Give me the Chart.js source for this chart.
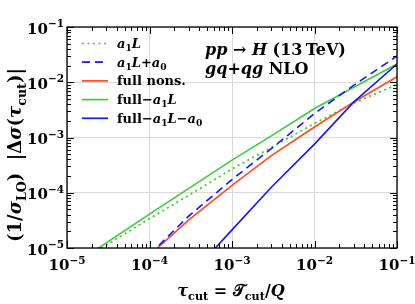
<!DOCTYPE html>
<html>
<head>
<meta charset="utf-8">
<script src="https://cdn.jsdelivr.net/npm/chart.js@4.4.1/dist/chart.umd.min.js"></script>
<style>
  html, body { margin: 0; padding: 0; background: #fff; }
</style>
</head>
<body>
<canvas id="chart" width="415" height="304"></canvas>
<script>
// values (log-log)
const tau = [2e-5, 1e-4, 3e-4, 1e-3, 3e-3, 1e-2, 3e-2, 1e-1];
const a1L = [7.8e-6, 3.4e-5, 9.0e-5, 2.7e-4, 6.6e-4, 1.8e-3, 4.2e-3, 9.1e-3];
const a1La0 = [null, 7.6e-6, 3.8e-5, 1.73e-4, 6.3e-4, 2.72e-3, 8.85e-3, 2.99e-2];
const fullNons = [null, 7.4e-6, 3.24e-5, 1.36e-4, 4.7e-4, 1.55e-3, 4.4e-3, 1.26e-2];
const fullMinusA1L = [8.3e-6, 4.1e-5, 1.2e-4, 3.9e-4, 1.07e-3, 3.35e-3, 8.1e-3, 2.14e-2];
const fullMinusA1LA0 = [null, null, 3.0e-6, 2.13e-5, 1.26e-4, 7.6e-4, 4.4e-3, 2.14e-2];

const decades = [1e-5, 1e-4, 1e-3, 1e-2, 1e-1];
const tickExponents = ['\u22125', '\u22124', '\u22123', '\u22122', '\u22121'];

const GREEN = '#3ccc3c';
const RED = '#ff4a1c';
const BLUE = '#1414ff';

const FAMILY = '"DejaVu Serif", serif';

function points(values) {
    return tau.map((t, i) => ({ x: t, y: values[i] })).filter(p => p.y !== null);
}

// text with bold / italic / sub / sup pieces
function drawRich(ctx, segs, x, y, size, align) {
    const font = k => {
        const small = k === 's' || k === 'p';
        const it = (k === 'i' || k === 'si') ? 'italic ' : '';
        const sz = (small || k === 'si') ? size * 0.7 : size;
        return `${it}bold ${sz}px ${FAMILY}`;
    };
    let w = 0;
    for (const [t, k] of segs) {
        ctx.font = font(k);
        w += ctx.measureText(t).width;
    }
    let cx = align === 'center' ? x - w / 2 : align === 'right' ? x - w : x;
    ctx.textAlign = 'left';
    ctx.textBaseline = 'alphabetic';
    for (const [t, k] of segs) {
        ctx.font = font(k);
        let dy = 0;
        if (k === 's' || k === 'si') dy = size * 0.25;
        if (k === 'p') dy = -size * 0.42;
        ctx.fillText(t, cx, y + dy);
        cx += ctx.measureText(t).width;
    }
    return w;
}

const legendItems = [
    { segs: [['a', 'i'], ['1', 's'], ['L', 'i']], color: GREEN, dash: [2, 3.5] },
    { segs: [['a', 'i'], ['1', 's'], ['L', 'i'], ['+', 'b'], ['a', 'i'], ['0', 's']], color: BLUE, dash: [8, 5] },
    { segs: [['full nons.', 'b']], color: RED, dash: [] },
    { segs: [['full\u2212', 'b'], ['a', 'i'], ['1', 's'], ['L', 'i']], color: GREEN, dash: [] },
    { segs: [['full\u2212', 'b'], ['a', 'i'], ['1', 's'], ['L', 'i'], ['\u2212', 'b'], ['a', 'i'], ['0', 's']], color: BLUE, dash: [] }
];

const decorations = {
    id: 'decorations',
    afterDraw(chart) {
        const { ctx, chartArea: a, scales: { x, y } } = chart;
        ctx.save();

        // minor and major tick marks on all four sides
        ctx.strokeStyle = '#000';
        ctx.lineWidth = 1;
        ctx.beginPath();
        for (let e = -5; e < -1 + 1e-9; e++) {
            for (let m = 1; m <= 9; m++) {
                const v = m * Math.pow(10, e);
                if (v > 0.1000001) break;
                const len = m === 1 ? 7 : 4;
                const px = Math.round(x.getPixelForValue(v)) + 0.5;
                ctx.moveTo(px, a.bottom); ctx.lineTo(px, a.bottom - len);
                ctx.moveTo(px, a.top); ctx.lineTo(px, a.top + len);
                const py = Math.round(y.getPixelForValue(v)) + 0.5;
                ctx.moveTo(a.left, py); ctx.lineTo(a.left + len, py);
                ctx.moveTo(a.right, py); ctx.lineTo(a.right - len, py);
            }
        }
        ctx.stroke();

        // frame
        ctx.lineWidth = 1.3;
        ctx.strokeRect(a.left, a.top, a.right - a.left, a.bottom - a.top);

        ctx.fillStyle = '#000';
        // tick labels
        decades.forEach((v, i) => {
            const px = x.getPixelForValue(v);
            drawRich(ctx, [['10', 'b'], [tickExponents[i], 'p']], px, 270, 15, 'center');
            const py = y.getPixelForValue(v);
            drawRich(ctx, [['10', 'b'], [tickExponents[i], 'p']], 64, py + 6.5, 15, 'right');
        });

        // axis titles
        drawRich(ctx, [['\u03c4', 'i'], ['cut', 's'], [' = ', 'b'], ['\ud835\udcaf', 'b'], ['cut', 's'], ['/', 'b'], ['Q', 'i']],
            231, 296, 16, 'center');
        ctx.save();
        ctx.translate(21, 155);
        ctx.rotate(-Math.PI / 2);
        drawRich(ctx, [['(1/', 'b'], ['\u03c3', 'i'], ['LO', 's'], [')  |\u0394', 'b'], ['\u03c3', 'i'], ['(', 'b'],
            ['\u03c4', 'i'], ['cut', 's'], [')|', 'b']], 0, 0, 18, 'center');
        ctx.restore();

        // process annotation
        drawRich(ctx, [['pp', 'i'], [' \u2192 ', 'b'], ['H', 'i'], [' (13\u2009TeV)', 'b']], 205, 55, 16, 'left');
        drawRich(ctx, [['gq', 'i'], ['+', 'b'], ['qg', 'i'], [' NLO', 'b']], 205, 74, 16, 'left');

        // legend
        legendItems.forEach((item, i) => {
            const ly = 43.5 + i * 18.7;
            ctx.strokeStyle = item.color;
            ctx.lineWidth = 1.7;
            ctx.setLineDash(item.dash);
            ctx.beginPath();
            ctx.moveTo(82, ly);
            ctx.lineTo(108, ly);
            ctx.stroke();
            ctx.setLineDash([]);
            drawRich(ctx, item.segs, 117, ly + 4.5, 13, 'left');
        });

        ctx.restore();
    }
};

function logAxis(afterFit) {
    return {
        type: 'logarithmic',
        min: 1e-5,
        max: 1e-1,
        afterBuildTicks: axis => { axis.ticks = decades.map(v => ({ value: v })); },
        afterFit,
        ticks: { display: false },
        grid: { color: '#dadada', lineWidth: 1, drawTicks: false },
        border: { display: false }
    };
}

new Chart(document.getElementById('chart').getContext('2d'), {
    type: 'scatter',
    data: {
        datasets: [
            { label: 'full\u2212a1L\u2212a0', data: points(fullMinusA1LA0), borderColor: BLUE, borderWidth: 1.6 },
            { label: 'a1L+a0', data: points(a1La0), borderColor: BLUE, borderWidth: 1.6, borderDash: [8, 5] },
            { label: 'full nons.', data: points(fullNons), borderColor: RED, borderWidth: 1.6 },
            { label: 'a1L', data: points(a1L), borderColor: GREEN, borderWidth: 1.8, borderDash: [2, 3.5] },
            { label: 'full\u2212a1L', data: points(fullMinusA1L), borderColor: GREEN, borderWidth: 1.6 }
        ].map(ds => Object.assign(ds, { showLine: true, pointRadius: 0, fill: false, tension: 0 }))
    },
    options: {
        responsive: false,
        animation: false,
        devicePixelRatio: 1,
        layout: { padding: { left: 0, right: 18, top: 27, bottom: 0 } },
        plugins: { legend: { display: false }, tooltip: { enabled: false } },
        scales: {
            x: logAxis(s => { s.height = 56; }),
            y: logAxis(s => { s.width = 67; })
        }
    },
    plugins: [decorations]
});
</script>
</body>
</html>
